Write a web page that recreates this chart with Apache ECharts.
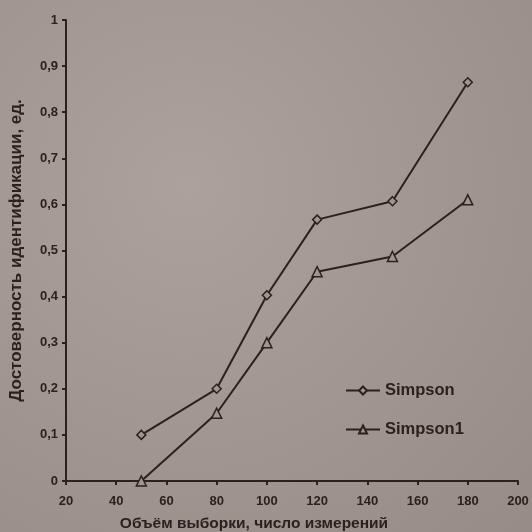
<!DOCTYPE html>
<html>
<head>
<meta charset="utf-8">
<script src="https://cdn.jsdelivr.net/npm/echarts@6/dist/echarts.min.js"></script>
<style>
html,body{margin:0;padding:0;background:#a2968f;}
#c{width:532px;height:532px;}
</style>
</head>
<body>
<div id="c"></div>
<script>
const xValues = [50, 80, 100, 120, 150, 180];
const simpson = [0.1, 0.2, 0.403, 0.567, 0.607, 0.865];
const simpson1 = [0, 0.147, 0.3, 0.454, 0.487, 0.61];
const seriesNames = ['Simpson', 'Simpson1'];
const xTitle = 'Объём выборки, число измерений';
const yTitle = 'Достоверность идентификации, ед.';

const ink = '#2a221f';
const chart = echarts.init(document.getElementById('c'));
function pairs(ys){ return xValues.map((x,i)=>[x, ys[i]]); }
chart.setOption({
  backgroundColor: {
    type: 'radial', x: 0.35, y: 0.35, r: 0.9,
    colorStops: [{offset: 0, color: '#aca19b'}, {offset: 1, color: '#988c86'}]
  },
  animation: false,
  textStyle: {fontFamily: 'Liberation Sans', fontWeight: 'bold', color: ink},
  grid: {left: 66, right: 14, top: 20, bottom: 51, containLabel: false, outerBoundsMode: 'none'},
  legend: {
    orient: 'vertical', left: 340, top: 377, itemGap: 22,
    itemWidth: 34, itemHeight: 10,
    textStyle: {fontFamily: 'Liberation Sans', fontWeight: 'bold', fontSize: 16.5, color: ink},
    data: seriesNames
  },
  xAxis: {
    type: 'value', min: 20, max: 200, interval: 20,
    name: xTitle, nameLocation: 'middle', nameGap: 35,
    nameTextStyle: {fontFamily: 'Liberation Sans', fontWeight: 'bold', fontSize: 15.5, color: ink, padding: [0, 76, 0, 0]},
    axisLine: {lineStyle: {color: ink, width: 2}},
    axisTick: {lineStyle: {color: ink, width: 2}, length: 4},
    axisLabel: {fontFamily: 'Liberation Sans', fontWeight: 'bold', fontSize: 13, color: ink, margin: 14},
    splitLine: {show: false}
  },
  yAxis: {
    type: 'value', min: 0, max: 1, interval: 0.1,
    name: yTitle, nameLocation: 'middle', nameGap: 41, nameRotate: 90,
    nameTextStyle: {fontFamily: 'Liberation Sans', fontWeight: 'bold', fontSize: 17, color: ink},
    axisLine: {show: true, lineStyle: {color: ink, width: 2}},
    axisTick: {show: true, lineStyle: {color: ink, width: 2}, length: 4},
    axisLabel: {fontFamily: 'Liberation Sans', fontWeight: 'bold', fontSize: 13, color: ink, margin: 8,
      formatter: v => String(Math.round(v*10)/10).replace('.', ',')},
    splitLine: {show: false}
  },
  series: [
    {name: seriesNames[0], type: 'line', data: pairs(simpson), symbol: 'diamond', symbolSize: 9,
     lineStyle: {color: ink, width: 2}, itemStyle: {color: '#a2968f', borderColor: ink, borderWidth: 1.5}},
    {name: seriesNames[1], type: 'line', data: pairs(simpson1), symbol: 'triangle', symbolSize: 10,
     lineStyle: {color: ink, width: 2}, itemStyle: {color: '#a2968f', borderColor: ink, borderWidth: 1.5}}
  ]
});
</script>
</body>
</html>
